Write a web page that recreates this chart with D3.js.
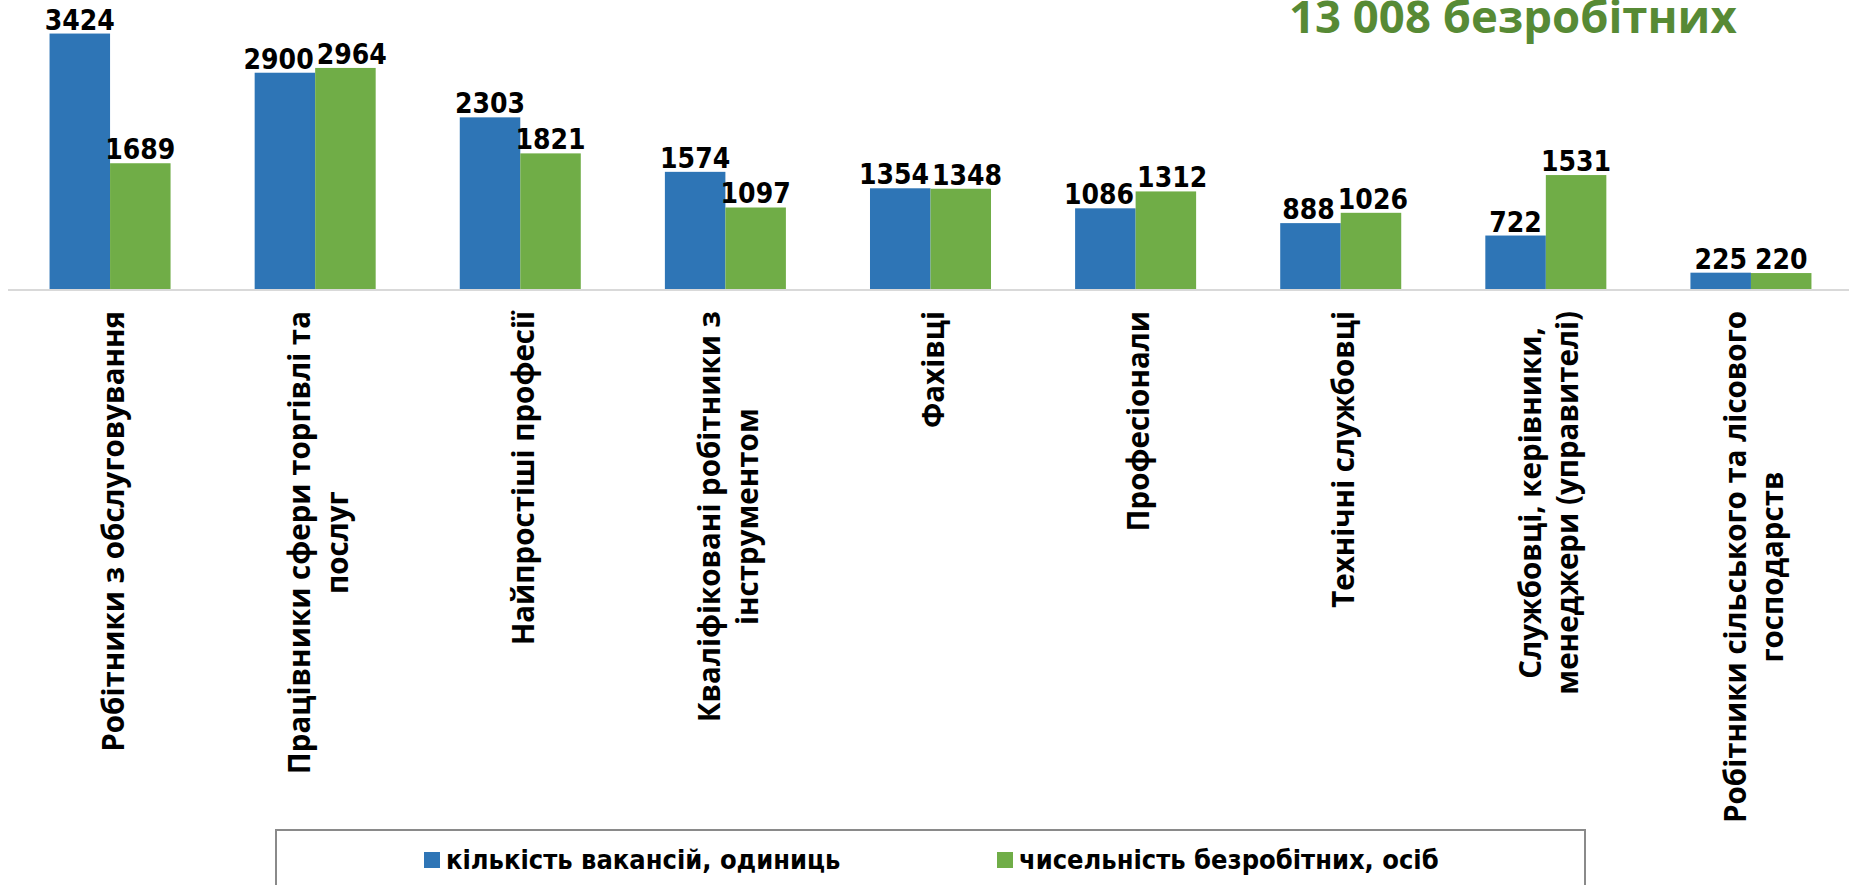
<!DOCTYPE html>
<html>
<head>
<meta charset="utf-8">
<script src="https://cdn.jsdelivr.net/npm/d3@7"></script>
<style>
  body { margin: 0; background: #fff; overflow: hidden; }
  svg { display: block; }
</style>
</head>
<body>
<svg id="chart" width="1849" height="885"></svg>
<script>
// ---- data ----
var categories = [
  "Робітники з обслуговування",
  "Працівники сфери торгівлі та послуг",
  "Найпростіші професії",
  "Кваліфіковані робітники з інструментом",
  "Фахівці",
  "Професіонали",
  "Технічні службовці",
  "Службовці, керівники, менеджери (управителі)",
  "Робітники сільського та лісового господарств"
];
// how each category label is broken into lines
var categoryLines = [
  ["Робітники з обслуговування"],
  ["Працівники сфери торгівлі та", "послуг"],
  ["Найпростіші професії"],
  ["Кваліфіковані робітники з", "інструментом"],
  ["Фахівці"],
  ["Професіонали"],
  ["Технічні службовці"],
  ["Службовці, керівники,", "менеджери (управителі)"],
  ["Робітники сільського та лісового", "господарств"]
];
var seriesNames = ["кількість вакансій, одиниць", "чисельність безробітних, осіб"];
var vacancies  = [3424, 2900, 2303, 1574, 1354, 1086, 888, 722, 225];
var unemployed = [1689, 2964, 1821, 1097, 1348, 1312, 1026, 1531, 220];
var seriesColors = ["#2e75b6", "#70ad47"];
var titleText = "13 008 безробітних";

var svg = d3.select("#chart"),
    width = +svg.attr("width"),
    height = +svg.attr("height");

var baseY = 289.5;

var x0 = d3.scaleBand()
    .domain(categories)
    .range([7.5, 1853.5])
    .paddingInner(0.41)
    .paddingOuter(0.205);

var x1 = d3.scaleBand()
    .domain(seriesNames)
    .range([0, x0.bandwidth()]);

var y = d3.scaleLinear()
    .domain([0, 4000])
    .range([baseY, baseY - 299]);

var color = d3.scaleOrdinal().domain(seriesNames).range(seriesColors);

var rows = categories.map(function(c, i) {
  return {cat: c, lines: categoryLines[i], values: [
    {name: seriesNames[0], value: vacancies[i]},
    {name: seriesNames[1], value: unemployed[i]}
  ]};
});

// title (sits right against the top edge, like the slide)
svg.append("text")
    .attr("x", 1289)
    .attr("y", 33)
    .attr("fill", "#578a35")
    .style("font-family", "'Open Sans', sans-serif")
    .style("font-weight", 700)
    .style("font-size", "45.5px")
    .text(titleText);

// bars
var groups = svg.append("g").selectAll("g")
  .data(rows)
  .join("g")
    .attr("transform", function(d) { return "translate(" + x0(d.cat) + ",0)"; });

groups.selectAll("rect")
  .data(function(d) { return d.values; })
  .join("rect")
    .attr("x", function(d) { return x1(d.name); })
    .attr("y", function(d) { return y(d.value); })
    .attr("width", x1.bandwidth())
    .attr("height", function(d) { return baseY - y(d.value); })
    .attr("fill", function(d) { return color(d.name); });

// axis line
var axis = svg.append("g")
    .attr("transform", "translate(0," + baseY + ")")
    .call(d3.axisBottom(x0).tickSize(0).tickFormat(""));
axis.select(".domain").attr("stroke", "#d9d9d9").attr("stroke-width", 2);

// value labels
groups.each(function(d) {
  var g = d3.select(this);
  var labels = g.selectAll("text.val")
    .data(d.values)
    .join("text")
      .attr("class", "val")
      .attr("text-anchor", "middle")
      .attr("x", function(v) { return x1(v.name) + x1.bandwidth() / 2; })
      .attr("y", function(v) { return y(v.value) - 4; })
      .style("font-family", "'DejaVu Sans Condensed', 'DejaVu Sans', sans-serif")
      .style("font-weight", 700)
      .style("font-size", "28px")
      .attr("fill", "#000")
      .text(function(v) { return v.value; });

  // push the two labels apart a bit when they collide
  var nodes = labels.nodes();
  var a = nodes[0], b = nodes[1];
  var ay = +a.getAttribute("y"), by = +b.getAttribute("y");
  if (Math.abs(ay - by) < 22) {
    var ax = +a.getAttribute("x"), bx = +b.getAttribute("x");
    var gap = (bx - b.getComputedTextLength() / 2) - (ax + a.getComputedTextLength() / 2);
    if (gap < 3) {
      var shift = (3 - gap) / 2;
      a.setAttribute("x", ax - shift);
      b.setAttribute("x", bx + shift);
    }
  }
});

// category labels, rotated
var labelTop = 311, lineH = 37.5;
var catLabels = svg.append("g").selectAll("g")
  .data(rows)
  .join("g");

catLabels.each(function(d) {
  var g = d3.select(this);
  var n = d.lines.length;
  var t = g.selectAll("text")
    .data(d.lines)
    .join("text")
      .attr("text-anchor", "middle")
      .attr("x", 0)
      .attr("y", function(l, i) { return (i - (n - 1) / 2) * lineH; })
      .attr("dy", "0.36em")
      .style("font-family", "'Open Sans', sans-serif")
      .style("font-weight", 700)
      .style("font-size", "29.5px")
      .attr("fill", "#000")
      .text(function(l) { return l; });
  var maxW = d3.max(t.nodes(), function(nd) { return nd.getComputedTextLength(); });
  var cx = x0(d.cat) + x0.bandwidth() / 2 + 3;
  g.attr("transform", "translate(" + cx + "," + (labelTop + maxW / 2) + ") rotate(-90)");
});

// legend box
svg.append("rect")
    .attr("x", 276)
    .attr("y", 830)
    .attr("width", 1309)
    .attr("height", 100)
    .attr("fill", "#fff")
    .attr("stroke", "#8a8a8a")
    .attr("stroke-width", 2);

var legendX = [424, 997];
var legend = svg.append("g").selectAll("g")
  .data(seriesNames)
  .join("g")
    .attr("transform", function(d, i) { return "translate(" + legendX[i] + ",852)"; });

legend.append("rect")
    .attr("width", 16)
    .attr("height", 16)
    .attr("fill", function(d) { return color(d); });

legend.append("text")
    .attr("x", 22)
    .attr("y", 17)
    .style("font-family", "'DejaVu Sans Condensed', 'DejaVu Sans', sans-serif")
    .style("font-weight", 700)
    .style("font-size", "27px")
    .attr("fill", "#000")
    .text(function(d) { return d; });
</script>
</body>
</html>
